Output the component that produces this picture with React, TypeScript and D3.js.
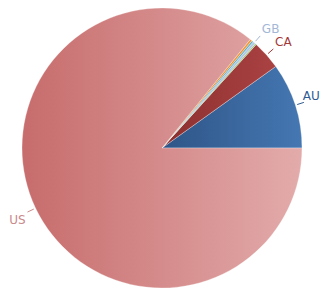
import React, {useMemo} from 'react'
import * as d3 from 'd3'

const countries = ['AU', 'CA', 'DE', 'GB', 'NZ', 'FR', 'US']
const shares = [9.9, 3.35, 0.15, 0.3, 0.2, 0.25, 85.85]
const showLabel = [true, true, false, true, false, false, true]
const darkColors = ['#2e5587', '#8c2f2f', '#7aa34a', '#8fb0d6', '#3f97ad', '#e07a12', '#c76c6c']
const lightColors = ['#4577b2', '#aa4242', '#9cc468', '#b4cbe6', '#5cb3c8', '#f59a3a', '#e3abab']
const labelColors = ['#2e5a91', '#a33a3a', '#7aa34a', '#a3b7d6', '#3f97ad', '#e07a12', '#c98a8a']

const width = 320
const height = 289
const cx = 162
const cy = 148
const radius = 140
const fontSize = 12

const App = () => {
  const arcs = useMemo(() => {
    // counter-clockwise from 3 o'clock
    const pie = d3.pie<number>()
      .sort(null)
      .startAngle(Math.PI / 2)
      .endAngle(Math.PI / 2 - 2 * Math.PI)
    return pie(shares)
  }, [])

  const arcGen = d3.arc<d3.PieArcDatum<number>>().innerRadius(0).outerRadius(radius)

  const pointAt = (a: number, r: number) => [Math.sin(a) * r, -Math.cos(a) * r]

  return (
    <svg width={width} height={height} style={{position: 'absolute', left: 0, top: 0}}
      fontFamily="'DejaVu Sans', sans-serif" fontSize={fontSize}>
      <defs>
        {countries.map((c, i) => (
          <linearGradient key={c} id={'grad-' + c} x1="0" y1="0" x2="1" y2="0">
            <stop offset="0%" stopColor={darkColors[i]}/>
            <stop offset="100%" stopColor={lightColors[i]}/>
          </linearGradient>
        ))}
      </defs>
      <g transform={`translate(${cx},${cy})`}>
        {arcs.map((a, i) => (
          <path key={countries[i]} d={arcGen(a) || ''} fill={`url(#grad-${countries[i]})`}
            stroke="#ffffff" strokeWidth={0.5} strokeOpacity={0.6}/>
        ))}
        {arcs.map((a, i) => {
          if (!showLabel[i]) return null
          const mid = (a.startAngle + a.endAngle) / 2
          const [x1, y1] = pointAt(mid, radius + 2)
          const [x2, y2] = pointAt(mid, radius + 9)
          const [lx, ly] = pointAt(mid, radius + 10)
          const right = lx > 0
          const up = ly < 0
          // keep the text inside the picture
          const textW = countries[i].length * fontSize * 0.68
          let tx = lx + (right ? 1 : -1)
          if (right) tx = Math.min(tx, width - cx - textW - 1)
          else tx = Math.max(tx, -cx + textW + 1)
          return (
            <g key={'l-' + countries[i]}>
              <line x1={x1} y1={y1} x2={x2} y2={y2} stroke={labelColors[i]} strokeWidth={1}/>
              <text x={tx} y={up ? ly - 2 : ly + 11}
                textAnchor={right ? 'start' : 'end'} fill={labelColors[i]}>
                {countries[i]}
              </text>
            </g>
          )
        })}
      </g>
    </svg>
  )
}

export default App
